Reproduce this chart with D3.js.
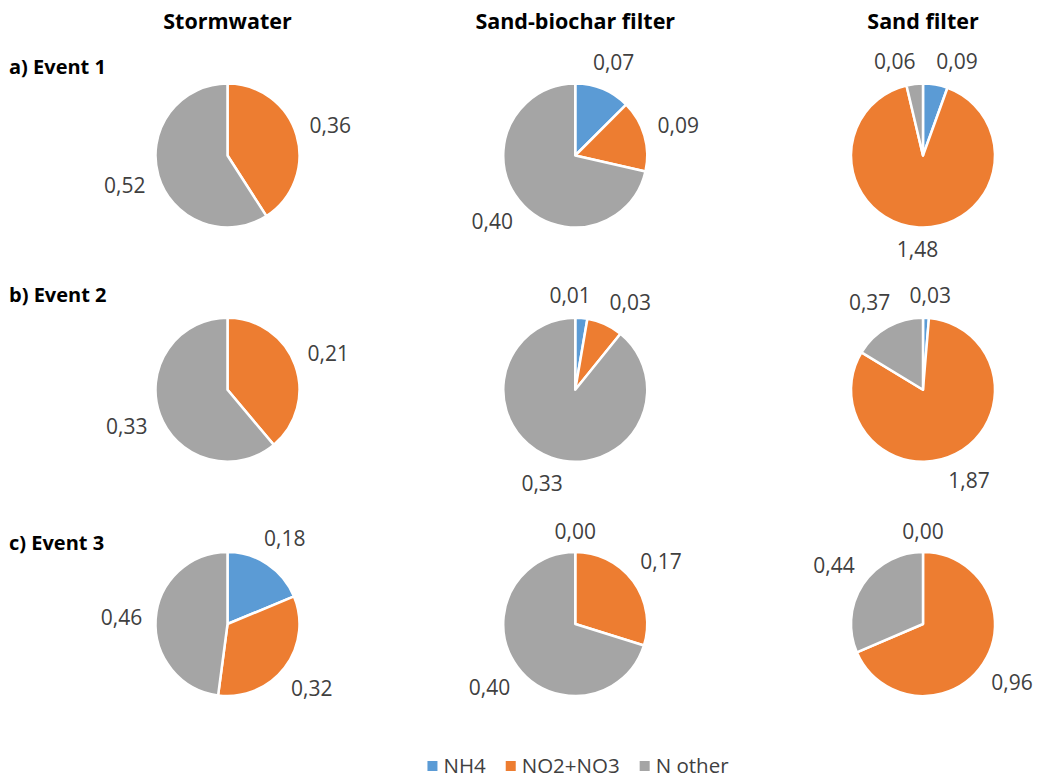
<!DOCTYPE html>
<html>
<head>
<meta charset="utf-8">
<script src="https://cdn.jsdelivr.net/npm/d3@7"></script>
<style>
  html, body { margin: 0; padding: 0; background: #fff; }
  svg { display: block; }
  text { font-family: "Open Sans", "Liberation Sans", sans-serif; }
</style>
</head>
<body>
<svg id="chart" width="1042" height="779"></svg>
<script>
// Nitrogen species per source (columns) and rain event (rows)
const sources = ["Stormwater", "Sand-biochar filter", "Sand filter"];
const events = ["a) Event 1", "b) Event 2", "c) Event 3"];
const species = ["NH4", "NO2+NO3", "N other"];
const colors = ["#5B9BD5", "#ED7D31", "#A5A5A5"];

// rows = events, columns = sources; null = not reported
const nh4    = [[null, 0.07, 0.09], [null, 0.01, 0.03], [0.18, 0.00, 0.00]];
const no2no3 = [[0.36, 0.09, 1.48], [0.21, 0.03, 1.87], [0.32, 0.17, 0.96]];
const nOther = [[0.52, 0.40, 0.06], [0.33, 0.33, 0.37], [0.46, 0.40, 0.44]];

const fmt = v => d3.format(".2f")(v).replace(".", ",");

const svg = d3.select("#chart");

const x = d3.scalePoint().domain(sources).range([227.5, 923]);
const y = d3.scalePoint().domain(events).range([155.5, 624]);
const color = d3.scaleOrdinal().domain(species).range(colors);

const R = 72;
const arc = d3.arc().innerRadius(0).outerRadius(R);
const pie = d3.pie().sort(null).value(d => d.value || 0);

// column headers
svg.selectAll("text.col")
  .data(sources).join("text")
  .attr("class", "col")
  .attr("x", d => x(d)).attr("y", 29)
  .attr("text-anchor", "middle")
  .style("font-size", "21.5px").style("font-weight", "bold").style("fill", "#000")
  .text(d => d);

// row headers
const rowBase = [74, 302, 550];
svg.selectAll("text.row")
  .data(events).join("text")
  .attr("class", "row")
  .attr("x", 9).attr("y", (d, i) => rowBase[i])
  .style("font-size", "20px").style("font-weight", "bold").style("fill", "#000")
  .text(d => d);

const LABEL_SIZE = 21;
const PAD = 13;
const HALF_H = 8;

events.forEach((ev, ri) => {
  sources.forEach((src, ci) => {
    const slices = species.map((s, k) => ({
      key: s,
      value: [nh4, no2no3, nOther][k][ri][ci]
    }));
    const cx = x(src), cy = y(ev);
    const g = svg.append("g").attr("transform", `translate(${cx},${cy})`);
    const arcs = pie(slices);

    g.selectAll("path")
      .data(arcs).join("path")
      .attr("d", arc)
      .attr("fill", d => color(d.data.key))
      .attr("stroke", "#fff")
      .attr("stroke-width", 2.5)
      .attr("stroke-linejoin", "round");

    // data labels outside the pie
    const labelled = arcs.filter(d => d.data.value !== null);
    const texts = g.selectAll("text.lbl")
      .data(labelled).join("text")
      .attr("class", "lbl")
      .attr("text-anchor", "middle")
      .attr("dy", "0.36em")
      .style("font-size", LABEL_SIZE + "px")
      .style("fill", "#404040")
      .text(d => fmt(d.data.value));

    const items = [];
    texts.each(function(d) {
      items.push({
        node: this,
        ang: (d.startAngle + d.endAngle) / 2,
        hw: this.getComputedTextLength() / 2
      });
    });

    const place = it => {
      const s = Math.sin(it.ang), c = Math.cos(it.ang);
      const ext = Math.abs(it.hw * s) + Math.abs(HALF_H * c);
      const dist = R + PAD + ext;
      it.x = s * dist;
      it.y = -c * dist;
    };
    items.forEach(place);

    // push overlapping labels apart along the circle
    const step = Math.PI / 180;
    for (let iter = 0; iter < 120; iter++) {
      let moved = false;
      for (let i = 0; i < items.length; i++) {
        for (let j = i + 1; j < items.length; j++) {
          const a = items[i], b = items[j];
          const ox = (a.hw + b.hw + 18) - Math.abs(a.x - b.x);
          const oy = (2 * HALF_H + 14) - Math.abs(a.y - b.y);
          if (ox > 0 && oy > 0) {
            let diff = b.ang - a.ang;
            while (diff > Math.PI) diff -= 2 * Math.PI;
            while (diff < -Math.PI) diff += 2 * Math.PI;
            const dir = diff >= 0 ? 1 : -1;
            a.ang -= dir * step;
            b.ang += dir * step;
            place(a); place(b);
            moved = true;
          }
        }
      }
      if (!moved) break;
    }

    items.forEach(it => {
      d3.select(it.node).attr("x", it.x).attr("y", it.y);
    });
  });
});

// legend
const legend = svg.append("g");
const lg = legend.selectAll("g")
  .data(species).join("g");
lg.append("rect")
  .attr("width", 10).attr("height", 10)
  .attr("y", 761)
  .attr("fill", d => color(d));
lg.append("text")
  .attr("y", 773)
  .style("font-size", "20.5px")
  .style("fill", "#404040")
  .text(d => d);

let cursor = 0;
lg.each(function() {
  const t = d3.select(this).select("text");
  const w = t.node().getComputedTextLength();
  d3.select(this).select("rect").attr("x", cursor);
  t.attr("x", cursor + 16);
  cursor += 16 + w + 20;
});
const total = cursor - 20;
legend.attr("transform", `translate(${578 - total / 2},0)`);
</script>
</body>
</html>
